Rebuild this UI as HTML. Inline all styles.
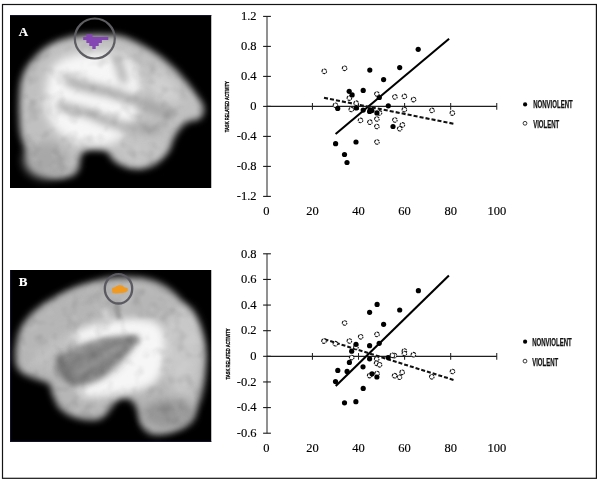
<!DOCTYPE html>
<html><head><meta charset="utf-8"><style>
html,body{margin:0;padding:0;background:#fff;}
svg{display:block;}
.tk{font-family:"Liberation Serif",serif;font-size:12.5px;fill:#000;stroke:#000;stroke-width:0.15px;}
.lg{font-family:"Liberation Sans",sans-serif;font-weight:bold;font-size:10.2px;fill:#111;stroke:#111;stroke-width:0.25px;}
.yl{font-family:"Liberation Sans",sans-serif;font-weight:bold;font-size:6.2px;fill:#000;stroke:#000;stroke-width:0.3px;}
.pl{font-family:"Liberation Serif",serif;font-weight:bold;font-size:13px;fill:#fff;stroke:#fff;stroke-width:0.15px;}
</style></head><body>
<svg width="600" height="481" viewBox="0 0 600 481">
<defs>
<mask id="maskA" maskUnits="userSpaceOnUse" x="0" y="0" width="600" height="481"><path d="M19.3,100 C19.5,94.8 19.6,89.0 20.5,84 C21.4,79.0 22.8,74.3 25,70 C27.2,65.7 30.5,61.8 34,58 C37.5,54.2 41.3,50.1 46,47 C50.7,43.9 56.0,41.5 62,39.5 C68.0,37.5 73.3,35.8 82,35 C90.7,34.2 105.7,34.2 114,35 C122.3,35.8 125.3,37.2 132,40 C138.7,42.8 146.8,47.2 154,52 C161.2,56.8 168.7,62.8 175,69 C181.3,75.2 187.2,82.7 192,89 C196.8,95.3 202.2,102.1 203.5,107 C204.8,111.9 202.9,115.9 200,118.5 C197.1,121.1 190.3,119.9 186.1,122.8 C181.9,125.7 178.0,131.1 175,136 C172.0,140.9 171.5,147.2 168,152 C164.5,156.8 159.3,162.2 154,165 C148.7,167.8 142.2,169.3 136,169 C129.8,168.7 121.5,165.5 117,163 C112.5,160.5 111.2,156.2 109,154 C106.8,151.8 106.7,150.8 103.5,150 C100.3,149.2 93.8,148.2 90,149 C86.2,149.8 82.9,151.7 81,155 C79.1,158.3 80.3,165.4 78.5,169 C76.7,172.6 74.8,175.2 70,176.5 C65.2,177.8 56.2,178.8 50,176.5 C43.8,174.2 37.8,169.6 33,163 C28.2,156.4 23.8,145.0 21.5,137 C19.2,129.0 19.7,121.2 19.3,115 C18.9,108.8 19.1,105.2 19.3,100 Z" fill="#fff" filter="url(#blur45)"/></mask>
<mask id="maskB" maskUnits="userSpaceOnUse" x="0" y="0" width="600" height="481"><path d="M15.5,352 C15.7,348.0 16.1,344.0 17,340 C17.9,336.0 18.8,332.2 21,328 C23.2,323.8 26.5,318.8 30,315 C33.5,311.2 37.7,308.1 42,305 C46.3,301.9 50.0,299.7 56,296.5 C62.0,293.3 69.6,289.0 78,286 C86.4,283.0 97.6,280.0 106.5,278.5 C115.4,277.0 123.8,276.9 131.6,277.2 C139.3,277.5 146.3,278.2 153,280.5 C159.7,282.8 165.4,285.4 172,291 C178.6,296.6 187.0,305.5 192.3,314 C197.6,322.5 201.8,332.7 204,342 C206.2,351.3 206.0,360.8 205.5,370 C205.0,379.2 203.6,388.5 201,397 C198.4,405.5 195.0,415.1 190,421 C185.0,426.9 177.3,430.3 171,432.5 C164.7,434.7 156.8,435.1 152,434 C147.2,432.9 144.3,429.7 142,426 C139.7,422.3 139.4,415.9 138,412 C136.6,408.1 135.8,404.8 133.5,402.5 C131.2,400.2 127.2,397.9 124,398 C120.8,398.1 117.4,400.3 114.5,403 C111.6,405.7 109.6,411.2 106.5,414 C103.4,416.8 101.2,419.4 96,420 C90.8,420.6 81.0,419.4 75,417.5 C69.0,415.6 63.7,412.2 60,408.5 C56.3,404.8 54.8,399.1 53,395 C51.2,390.9 51.8,386.7 49,384 C46.2,381.3 40.5,380.8 36,379 C31.5,377.2 25.3,375.5 22,373 C18.7,370.5 17.1,367.5 16,364 C14.9,360.5 15.3,356.0 15.5,352 Z" fill="#fff" filter="url(#blur45)"/></mask>
<clipPath id="clipA"><rect x="10" y="15" width="201.5" height="173"/></clipPath>
<clipPath id="clipB"><rect x="10" y="270" width="201.5" height="172"/></clipPath>
<filter id="blur4" filterUnits="userSpaceOnUse" x="0" y="0" width="600" height="481"><feGaussianBlur stdDeviation="4"/></filter>
<filter id="blur3" filterUnits="userSpaceOnUse" x="0" y="0" width="600" height="481"><feGaussianBlur stdDeviation="3"/></filter>
<filter id="blur45" filterUnits="userSpaceOnUse" x="0" y="0" width="600" height="481"><feGaussianBlur stdDeviation="3.6"/></filter>
<filter id="blur25" filterUnits="userSpaceOnUse" x="0" y="0" width="600" height="481"><feGaussianBlur stdDeviation="2.5"/></filter>
<filter id="blur2" filterUnits="userSpaceOnUse" x="0" y="0" width="600" height="481"><feGaussianBlur stdDeviation="2"/></filter>
<filter id="noise" filterUnits="userSpaceOnUse" x="0" y="0" width="600" height="481"><feTurbulence type="fractalNoise" baseFrequency="0.075" numOctaves="2" seed="7"/><feColorMatrix type="matrix" values="0 0 0 0 0  0 0 0 0 0  0 0 0 0 0  0 0 0 -2.2 1.1"/><feGaussianBlur stdDeviation="0.8"/></filter>
<filter id="noise2" filterUnits="userSpaceOnUse" x="0" y="0" width="600" height="481"><feTurbulence type="fractalNoise" baseFrequency="0.075" numOctaves="2" seed="21"/><feColorMatrix type="matrix" values="0 0 0 0 1  0 0 0 0 1  0 0 0 0 1  0 0 0 2.2 -1.1"/><feGaussianBlur stdDeviation="0.8"/></filter>
<filter id="nofx" filterUnits="userSpaceOnUse" x="0" y="0" width="600" height="481"><feOffset dx="0" dy="0"/></filter>
<filter id="blur5" filterUnits="userSpaceOnUse" x="0" y="0" width="600" height="481"><feGaussianBlur stdDeviation="5"/></filter>
</defs>
<g filter="url(#nofx)">
<rect width="600" height="481" fill="#fff"/>
<rect x="2.5" y="4.5" width="593.9" height="473.8" fill="none" stroke="#141414" stroke-width="1.2"/>

<g clip-path="url(#clipA)">
<rect x="10" y="15" width="201.5" height="173" fill="#000"/>
<rect x="10" y="15" width="201.5" height="1" fill="#14142e"/>
<g filter="url(#blur45)">
<path d="M19.3,100 C19.5,94.8 19.6,89.0 20.5,84 C21.4,79.0 22.8,74.3 25,70 C27.2,65.7 30.5,61.8 34,58 C37.5,54.2 41.3,50.1 46,47 C50.7,43.9 56.0,41.5 62,39.5 C68.0,37.5 73.3,35.8 82,35 C90.7,34.2 105.7,34.2 114,35 C122.3,35.8 125.3,37.2 132,40 C138.7,42.8 146.8,47.2 154,52 C161.2,56.8 168.7,62.8 175,69 C181.3,75.2 187.2,82.7 192,89 C196.8,95.3 202.2,102.1 203.5,107 C204.8,111.9 202.9,115.9 200,118.5 C197.1,121.1 190.3,119.9 186.1,122.8 C181.9,125.7 178.0,131.1 175,136 C172.0,140.9 171.5,147.2 168,152 C164.5,156.8 159.3,162.2 154,165 C148.7,167.8 142.2,169.3 136,169 C129.8,168.7 121.5,165.5 117,163 C112.5,160.5 111.2,156.2 109,154 C106.8,151.8 106.7,150.8 103.5,150 C100.3,149.2 93.8,148.2 90,149 C86.2,149.8 82.9,151.7 81,155 C79.1,158.3 80.3,165.4 78.5,169 C76.7,172.6 74.8,175.2 70,176.5 C65.2,177.8 56.2,178.8 50,176.5 C43.8,174.2 37.8,169.6 33,163 C28.2,156.4 23.8,145.0 21.5,137 C19.2,129.0 19.7,121.2 19.3,115 C18.9,108.8 19.1,105.2 19.3,100 Z" fill="#c0c0c0"/>
</g>
<g filter="url(#blur5)">
<path d="M52,68 C62,54 90,50 120,54 C135,58 142,78 140,98 C139,115 132,125 124,135 C114,146 95,150 78,144 C63,138 52,128 47,115 C43,102 46,80 52,68 Z" fill="#f6f6f6"/>
<ellipse cx="46" cy="160" rx="22" ry="18" fill="#a8a8a8"/>
<path d="M150,70 C165,72 180,86 180,100 C172,108 156,100 150,88 Z" fill="#d0d0d0"/>
<path d="M120,138 C135,136 155,138 165,144 C160,156 140,163 125,160 C118,155 116,144 120,138 Z" fill="#c4c4c4"/>
</g>
<g filter="url(#blur4)" fill="none" stroke="#a2a2a2" stroke-linecap="round">
<path d="M68,80 C75,83 80,86 87,87 C97,89 110,92 122,96 C132,99 140,102 147,105 C156,109 164,113 171,115" stroke-width="9"/>
<path d="M60,106 C70,109 80,111 88,113 C98,117 106,121 115,124 C125,127 133,128 140,129 C147,130 152,130 157,130" stroke-width="8"/>
<path d="M117,57 C119,65 121,72 124,80" stroke-width="7"/>
</g>
<g mask="url(#maskA)"><rect x="10" y="15" width="202" height="173" filter="url(#noise)" opacity="0.13"/><rect x="10" y="15" width="202" height="173" filter="url(#noise2)" opacity="0.13"/></g>
</g>


<path d="M86.4,34.3 L92.5,34.3 L92.5,36.9 L108.3,36.9 L108.3,39.9 L101.9,39.9 L101.9,43.1 L98.7,43.1 L98.7,46 L95.7,46 L95.7,48.9 L92.3,48.9 L92.3,46 L89.3,46 L89.3,43.1 L86.4,43.1 L86.4,39.9 L83.2,39.9 L83.2,36.9 L86.4,36.9 Z" fill="#8446b3"/>
<circle cx="94.8" cy="38.5" r="20" fill="none" stroke="#5e5e62" stroke-width="2.2"/>
<text x="18.8" y="35.5" class="pl">A</text>


<g clip-path="url(#clipB)">
<rect x="10" y="270" width="201.5" height="172" fill="#000"/>
<rect x="10" y="270" width="1" height="172" fill="#12122e"/>
<rect x="10" y="441" width="201.5" height="1" fill="#12122e"/>
<g filter="url(#blur45)">
<path d="M15.5,352 C15.7,348.0 16.1,344.0 17,340 C17.9,336.0 18.8,332.2 21,328 C23.2,323.8 26.5,318.8 30,315 C33.5,311.2 37.7,308.1 42,305 C46.3,301.9 50.0,299.7 56,296.5 C62.0,293.3 69.6,289.0 78,286 C86.4,283.0 97.6,280.0 106.5,278.5 C115.4,277.0 123.8,276.9 131.6,277.2 C139.3,277.5 146.3,278.2 153,280.5 C159.7,282.8 165.4,285.4 172,291 C178.6,296.6 187.0,305.5 192.3,314 C197.6,322.5 201.8,332.7 204,342 C206.2,351.3 206.0,360.8 205.5,370 C205.0,379.2 203.6,388.5 201,397 C198.4,405.5 195.0,415.1 190,421 C185.0,426.9 177.3,430.3 171,432.5 C164.7,434.7 156.8,435.1 152,434 C147.2,432.9 144.3,429.7 142,426 C139.7,422.3 139.4,415.9 138,412 C136.6,408.1 135.8,404.8 133.5,402.5 C131.2,400.2 127.2,397.9 124,398 C120.8,398.1 117.4,400.3 114.5,403 C111.6,405.7 109.6,411.2 106.5,414 C103.4,416.8 101.2,419.4 96,420 C90.8,420.6 81.0,419.4 75,417.5 C69.0,415.6 63.7,412.2 60,408.5 C56.3,404.8 54.8,399.1 53,395 C51.2,390.9 51.8,386.7 49,384 C46.2,381.3 40.5,380.8 36,379 C31.5,377.2 25.3,375.5 22,373 C18.7,370.5 17.1,367.5 16,364 C14.9,360.5 15.3,356.0 15.5,352 Z" fill="#b6b6b6"/>
</g>
<g filter="url(#blur5)">
<ellipse cx="182" cy="350" rx="20" ry="44" fill="#c8c8c8"/>
<ellipse cx="168" cy="414" rx="26" ry="14" fill="#969696"/>
<ellipse cx="85" cy="300" rx="30" ry="8" fill="#b4b4b4" transform="rotate(-15 85 300)"/>
</g>
<g filter="url(#blur4)">
<path d="M72,334 C88,324 108,320 128,319 C148,318 160,321 163,330 C167,345 165,362 161,374 C157,384 148,388 135,391 C118,395 100,398 86,397 C76,396 76,388 86,384 C100,380 110,376 120,366 C128,356 134,346 137,338 C120,337 100,338 85,343 C78,345 70,340 72,334 Z" fill="#f6f6f6"/>
<path d="M70,338 C60,345 48,352 38,362" stroke="#c4c4c4" stroke-width="9" fill="none" stroke-linecap="round"/>
</g>
<g filter="url(#blur3)">
<path d="M139,336 C122,336 105,338 90,344 C75,350 62,355 57,363 C53,372 60,380 72,383 C84,386 97,382 109,371 C121,360 131,348 139,340 Z" fill="#7e7e7e"/>
</g>
<g filter="url(#blur2)">
<path d="M117,303 C117,308 118,313 119,319" stroke="#808080" stroke-width="3" fill="none"/>
<path d="M104,310 C106,316 108,320 110,324" stroke="#d0d0d0" stroke-width="5" fill="none"/>
</g>
<g filter="url(#blur3)">
<path d="M74,375 C90,366 106,356 126,344" stroke="#9a9a9a" stroke-width="5" fill="none"/>
<path d="M64,360 C78,352 92,346 110,341" stroke="#949494" stroke-width="4" fill="none"/>
<path d="M60,358 C62,366 66,374 74,383" stroke="#707070" stroke-width="6" fill="none" stroke-linecap="round"/>
</g>
<g mask="url(#maskB)"><rect x="10" y="270" width="202" height="172" filter="url(#noise)" opacity="0.13"/><rect x="10" y="270" width="202" height="172" filter="url(#noise2)" opacity="0.13"/></g>
</g>


<path d="M112.1,288 L114.2,287.6 L116.7,285.9 L119.2,285.1 L122.5,285.5 L124.2,287.2 L127.5,288 L127.9,290.5 L125.8,292.2 L122.5,293 L115.8,293.4 L112.5,293 L112.1,290.5 Z" fill="#f09a22"/>
<ellipse cx="118.5" cy="288.8" rx="13.7" ry="14.7" fill="none" stroke="#5a5a60" stroke-width="2.3"/>
<text x="18.8" y="285.8" class="pl">B</text>

<line x1="267.0" y1="16.4" x2="267.0" y2="196.4" stroke="#858585" stroke-width="1.8"/>
<line x1="263.1" y1="16.4" x2="270.9" y2="16.4" stroke="#1a1a1a" stroke-width="1.1"/>
<text x="256.6" y="20.1" text-anchor="end" class="tk">1.2</text>
<line x1="263.1" y1="46.4" x2="270.9" y2="46.4" stroke="#1a1a1a" stroke-width="1.1"/>
<text x="256.6" y="50.1" text-anchor="end" class="tk">0.8</text>
<line x1="263.1" y1="76.4" x2="270.9" y2="76.4" stroke="#1a1a1a" stroke-width="1.1"/>
<text x="256.6" y="80.1" text-anchor="end" class="tk">0.4</text>
<line x1="263.1" y1="106.4" x2="270.9" y2="106.4" stroke="#1a1a1a" stroke-width="1.1"/>
<text x="256.6" y="110.1" text-anchor="end" class="tk">0</text>
<line x1="263.1" y1="136.4" x2="270.9" y2="136.4" stroke="#1a1a1a" stroke-width="1.1"/>
<text x="256.6" y="140.1" text-anchor="end" class="tk">-0.4</text>
<line x1="263.1" y1="166.4" x2="270.9" y2="166.4" stroke="#1a1a1a" stroke-width="1.1"/>
<text x="256.6" y="170.1" text-anchor="end" class="tk">-0.8</text>
<line x1="263.1" y1="196.4" x2="270.9" y2="196.4" stroke="#1a1a1a" stroke-width="1.1"/>
<text x="256.6" y="200.1" text-anchor="end" class="tk">-1.2</text>
<line x1="267.0" y1="106.4" x2="496.8" y2="106.4" stroke="#1e1e1e" stroke-width="1.1"/>
<line x1="312.43" y1="103.10000000000001" x2="312.43" y2="109.80000000000001" stroke="#222" stroke-width="1.05"/>
<line x1="358.51" y1="103.10000000000001" x2="358.51" y2="109.80000000000001" stroke="#222" stroke-width="1.05"/>
<line x1="404.59" y1="103.10000000000001" x2="404.59" y2="109.80000000000001" stroke="#222" stroke-width="1.05"/>
<line x1="450.67" y1="103.10000000000001" x2="450.67" y2="109.80000000000001" stroke="#222" stroke-width="1.05"/>
<line x1="496.75" y1="103.10000000000001" x2="496.75" y2="109.80000000000001" stroke="#222" stroke-width="1.05"/>
<text x="266.4" y="215.0" text-anchor="middle" class="tk">0</text>
<text x="312.4" y="215.0" text-anchor="middle" class="tk">20</text>
<text x="358.5" y="215.0" text-anchor="middle" class="tk">40</text>
<text x="404.6" y="215.0" text-anchor="middle" class="tk">60</text>
<text x="450.7" y="215.0" text-anchor="middle" class="tk">80</text>
<text x="496.8" y="215.0" text-anchor="middle" class="tk">100</text>
<line x1="335.6" y1="134.0" x2="449.1" y2="38.7" stroke="#000" stroke-width="2.1"/>
<line x1="324.0" y1="97.8" x2="453.4" y2="123.7" stroke="#111" stroke-width="2.1" stroke-dasharray="4.062 2.028"/>
<circle cx="324.3" cy="71.3" r="2.3" fill="#fff" stroke="#151515" stroke-width="1.1" stroke-dasharray="2.95 0.66" stroke-dashoffset="1.47"/>
<circle cx="344.6" cy="68.3" r="2.3" fill="#fff" stroke="#151515" stroke-width="1.1" stroke-dasharray="2.95 0.66" stroke-dashoffset="1.47"/>
<circle cx="376.9" cy="94" r="2.3" fill="#fff" stroke="#151515" stroke-width="1.1" stroke-dasharray="2.95 0.66" stroke-dashoffset="1.47"/>
<circle cx="349.4" cy="98.1" r="2.3" fill="#fff" stroke="#151515" stroke-width="1.1" stroke-dasharray="2.95 0.66" stroke-dashoffset="1.47"/>
<circle cx="394.9" cy="96.9" r="2.3" fill="#fff" stroke="#151515" stroke-width="1.1" stroke-dasharray="2.95 0.66" stroke-dashoffset="1.47"/>
<circle cx="404.4" cy="96.4" r="2.3" fill="#fff" stroke="#151515" stroke-width="1.1" stroke-dasharray="2.95 0.66" stroke-dashoffset="1.47"/>
<circle cx="413.6" cy="99.6" r="2.3" fill="#fff" stroke="#151515" stroke-width="1.1" stroke-dasharray="2.95 0.66" stroke-dashoffset="1.47"/>
<circle cx="335.5" cy="105.3" r="2.3" fill="#fff" stroke="#151515" stroke-width="1.1" stroke-dasharray="2.95 0.66" stroke-dashoffset="1.47"/>
<circle cx="356.2" cy="103.2" r="2.3" fill="#fff" stroke="#151515" stroke-width="1.1" stroke-dasharray="2.95 0.66" stroke-dashoffset="1.47"/>
<circle cx="351.3" cy="109.5" r="2.3" fill="#fff" stroke="#151515" stroke-width="1.1" stroke-dasharray="2.95 0.66" stroke-dashoffset="1.47"/>
<circle cx="379.5" cy="112.9" r="2.3" fill="#fff" stroke="#151515" stroke-width="1.1" stroke-dasharray="2.95 0.66" stroke-dashoffset="1.47"/>
<circle cx="404.4" cy="109.6" r="2.3" fill="#fff" stroke="#151515" stroke-width="1.1" stroke-dasharray="2.95 0.66" stroke-dashoffset="1.47"/>
<circle cx="432.0" cy="110.4" r="2.3" fill="#fff" stroke="#151515" stroke-width="1.1" stroke-dasharray="2.95 0.66" stroke-dashoffset="1.47"/>
<circle cx="452.4" cy="113.1" r="2.3" fill="#fff" stroke="#151515" stroke-width="1.1" stroke-dasharray="2.95 0.66" stroke-dashoffset="1.47"/>
<circle cx="360.5" cy="120.4" r="2.3" fill="#fff" stroke="#151515" stroke-width="1.1" stroke-dasharray="2.95 0.66" stroke-dashoffset="1.47"/>
<circle cx="369.9" cy="122.2" r="2.3" fill="#fff" stroke="#151515" stroke-width="1.1" stroke-dasharray="2.95 0.66" stroke-dashoffset="1.47"/>
<circle cx="376.9" cy="119" r="2.3" fill="#fff" stroke="#151515" stroke-width="1.1" stroke-dasharray="2.95 0.66" stroke-dashoffset="1.47"/>
<circle cx="376.9" cy="126.5" r="2.3" fill="#fff" stroke="#151515" stroke-width="1.1" stroke-dasharray="2.95 0.66" stroke-dashoffset="1.47"/>
<circle cx="394.9" cy="120" r="2.3" fill="#fff" stroke="#151515" stroke-width="1.1" stroke-dasharray="2.95 0.66" stroke-dashoffset="1.47"/>
<circle cx="402.4" cy="124.9" r="2.3" fill="#fff" stroke="#151515" stroke-width="1.1" stroke-dasharray="2.95 0.66" stroke-dashoffset="1.47"/>
<circle cx="399.7" cy="128.7" r="2.3" fill="#fff" stroke="#151515" stroke-width="1.1" stroke-dasharray="2.95 0.66" stroke-dashoffset="1.47"/>
<circle cx="377.0" cy="142" r="2.3" fill="#fff" stroke="#151515" stroke-width="1.1" stroke-dasharray="2.95 0.66" stroke-dashoffset="1.47"/>
<circle cx="418.2" cy="49.3" r="2.6" fill="#000"/>
<circle cx="399.7" cy="67.6" r="2.6" fill="#000"/>
<circle cx="369.8" cy="70.1" r="2.6" fill="#000"/>
<circle cx="383.6" cy="79.6" r="2.6" fill="#000"/>
<circle cx="363.2" cy="90.4" r="2.6" fill="#000"/>
<circle cx="349.2" cy="91.3" r="2.6" fill="#000"/>
<circle cx="352.1" cy="94.9" r="2.6" fill="#000"/>
<circle cx="379.3" cy="97.5" r="2.6" fill="#000"/>
<circle cx="388.3" cy="105.8" r="2.6" fill="#000"/>
<circle cx="337.7" cy="108.4" r="2.6" fill="#000"/>
<circle cx="356.2" cy="108" r="2.6" fill="#000"/>
<circle cx="363.2" cy="110.1" r="2.6" fill="#000"/>
<circle cx="370.2" cy="109.8" r="2.6" fill="#000"/>
<circle cx="371.9" cy="110.6" r="2.6" fill="#000"/>
<circle cx="369.6" cy="111.5" r="2.6" fill="#000"/>
<circle cx="376.9" cy="112.9" r="2.6" fill="#000"/>
<circle cx="393.0" cy="126.5" r="2.6" fill="#000"/>
<circle cx="335.6" cy="143.7" r="2.6" fill="#000"/>
<circle cx="356.0" cy="142" r="2.6" fill="#000"/>
<circle cx="344.5" cy="154.5" r="2.6" fill="#000"/>
<circle cx="347.0" cy="162.5" r="2.6" fill="#000"/>
<circle cx="525.1" cy="104.4" r="2.1" fill="#000"/>
<circle cx="525.0" cy="123.3" r="1.9" fill="#fff" stroke="#222" stroke-width="0.9"/>
<text x="533.2" y="107.9" class="lg" textLength="39.5" lengthAdjust="spacingAndGlyphs">NONVIOLENT</text>
<text x="533.2" y="127.6" class="lg" textLength="26" lengthAdjust="spacingAndGlyphs">VIOLENT</text>
<text transform="translate(229.2 106.8) rotate(-90)" text-anchor="middle" class="yl" textLength="51" lengthAdjust="spacingAndGlyphs">TASK RELATED ACTIVITY</text>
<line x1="267.0" y1="253.8" x2="267.0" y2="433.2" stroke="#858585" stroke-width="1.8"/>
<line x1="263.1" y1="253.8" x2="270.9" y2="253.8" stroke="#1a1a1a" stroke-width="1.1"/>
<text x="256.6" y="257.5" text-anchor="end" class="tk">0.8</text>
<line x1="263.1" y1="279.43" x2="270.9" y2="279.43" stroke="#1a1a1a" stroke-width="1.1"/>
<text x="256.6" y="283.1" text-anchor="end" class="tk">0.6</text>
<line x1="263.1" y1="305.06" x2="270.9" y2="305.06" stroke="#1a1a1a" stroke-width="1.1"/>
<text x="256.6" y="308.8" text-anchor="end" class="tk">0.4</text>
<line x1="263.1" y1="330.69" x2="270.9" y2="330.69" stroke="#1a1a1a" stroke-width="1.1"/>
<text x="256.6" y="334.4" text-anchor="end" class="tk">0.2</text>
<line x1="263.1" y1="356.32" x2="270.9" y2="356.32" stroke="#1a1a1a" stroke-width="1.1"/>
<text x="256.6" y="360.0" text-anchor="end" class="tk">0</text>
<line x1="263.1" y1="381.95000000000005" x2="270.9" y2="381.95000000000005" stroke="#1a1a1a" stroke-width="1.1"/>
<text x="256.6" y="385.7" text-anchor="end" class="tk">-0.2</text>
<line x1="263.1" y1="407.58000000000004" x2="270.9" y2="407.58000000000004" stroke="#1a1a1a" stroke-width="1.1"/>
<text x="256.6" y="411.3" text-anchor="end" class="tk">-0.4</text>
<line x1="263.1" y1="433.21000000000004" x2="270.9" y2="433.21000000000004" stroke="#1a1a1a" stroke-width="1.1"/>
<text x="256.6" y="436.9" text-anchor="end" class="tk">-0.6</text>
<line x1="267.0" y1="356.35" x2="496.8" y2="356.35" stroke="#1e1e1e" stroke-width="1.1"/>
<line x1="312.43" y1="353.05" x2="312.43" y2="359.75" stroke="#222" stroke-width="1.05"/>
<line x1="358.51" y1="353.05" x2="358.51" y2="359.75" stroke="#222" stroke-width="1.05"/>
<line x1="404.59" y1="353.05" x2="404.59" y2="359.75" stroke="#222" stroke-width="1.05"/>
<line x1="450.67" y1="353.05" x2="450.67" y2="359.75" stroke="#222" stroke-width="1.05"/>
<line x1="496.75" y1="353.05" x2="496.75" y2="359.75" stroke="#222" stroke-width="1.05"/>
<text x="266.4" y="452.2" text-anchor="middle" class="tk">0</text>
<text x="312.4" y="452.2" text-anchor="middle" class="tk">20</text>
<text x="358.5" y="452.2" text-anchor="middle" class="tk">40</text>
<text x="404.6" y="452.2" text-anchor="middle" class="tk">60</text>
<text x="450.7" y="452.2" text-anchor="middle" class="tk">80</text>
<text x="496.8" y="452.2" text-anchor="middle" class="tk">100</text>
<line x1="335.75" y1="385.9" x2="448.9" y2="275.6" stroke="#000" stroke-width="2.1"/>
<line x1="324.5" y1="339.3" x2="453.5" y2="379.9" stroke="#111" stroke-width="2.1" stroke-dasharray="3.980 1.987"/>
<circle cx="344.6" cy="323" r="2.3" fill="#fff" stroke="#151515" stroke-width="1.1" stroke-dasharray="2.95 0.66" stroke-dashoffset="1.47"/>
<circle cx="360.7" cy="336.8" r="2.3" fill="#fff" stroke="#151515" stroke-width="1.1" stroke-dasharray="2.95 0.66" stroke-dashoffset="1.47"/>
<circle cx="377.0" cy="334.4" r="2.3" fill="#fff" stroke="#151515" stroke-width="1.1" stroke-dasharray="2.95 0.66" stroke-dashoffset="1.47"/>
<circle cx="324.0" cy="341.1" r="2.3" fill="#fff" stroke="#151515" stroke-width="1.1" stroke-dasharray="2.95 0.66" stroke-dashoffset="1.47"/>
<circle cx="335.4" cy="343.7" r="2.3" fill="#fff" stroke="#151515" stroke-width="1.1" stroke-dasharray="2.95 0.66" stroke-dashoffset="1.47"/>
<circle cx="349.4" cy="341" r="2.3" fill="#fff" stroke="#151515" stroke-width="1.1" stroke-dasharray="2.95 0.66" stroke-dashoffset="1.47"/>
<circle cx="356.0" cy="347" r="2.3" fill="#fff" stroke="#151515" stroke-width="1.1" stroke-dasharray="2.95 0.66" stroke-dashoffset="1.47"/>
<circle cx="351.7" cy="357.6" r="2.3" fill="#fff" stroke="#151515" stroke-width="1.1" stroke-dasharray="2.95 0.66" stroke-dashoffset="1.47"/>
<circle cx="376.7" cy="359" r="2.3" fill="#fff" stroke="#151515" stroke-width="1.1" stroke-dasharray="2.95 0.66" stroke-dashoffset="1.47"/>
<circle cx="376.6" cy="363.3" r="2.3" fill="#fff" stroke="#151515" stroke-width="1.1" stroke-dasharray="2.95 0.66" stroke-dashoffset="1.47"/>
<circle cx="379.6" cy="364.8" r="2.3" fill="#fff" stroke="#151515" stroke-width="1.1" stroke-dasharray="2.95 0.66" stroke-dashoffset="1.47"/>
<circle cx="369.7" cy="375.6" r="2.3" fill="#fff" stroke="#151515" stroke-width="1.1" stroke-dasharray="2.95 0.66" stroke-dashoffset="1.47"/>
<circle cx="377.1" cy="373.5" r="2.3" fill="#fff" stroke="#151515" stroke-width="1.1" stroke-dasharray="2.95 0.66" stroke-dashoffset="1.47"/>
<circle cx="394.5" cy="355.6" r="2.3" fill="#fff" stroke="#151515" stroke-width="1.1" stroke-dasharray="2.95 0.66" stroke-dashoffset="1.47"/>
<circle cx="404.4" cy="351" r="2.3" fill="#fff" stroke="#151515" stroke-width="1.1" stroke-dasharray="2.95 0.66" stroke-dashoffset="1.47"/>
<circle cx="404.4" cy="353.5" r="2.3" fill="#fff" stroke="#151515" stroke-width="1.1" stroke-dasharray="2.95 0.66" stroke-dashoffset="1.47"/>
<circle cx="413.4" cy="354.7" r="2.3" fill="#fff" stroke="#151515" stroke-width="1.1" stroke-dasharray="2.95 0.66" stroke-dashoffset="1.47"/>
<circle cx="392.4" cy="355.3" r="2.3" fill="#fff" stroke="#151515" stroke-width="1.1" stroke-dasharray="2.95 0.66" stroke-dashoffset="1.47"/>
<circle cx="394.6" cy="375.7" r="2.3" fill="#fff" stroke="#151515" stroke-width="1.1" stroke-dasharray="2.95 0.66" stroke-dashoffset="1.47"/>
<circle cx="399.5" cy="377.2" r="2.3" fill="#fff" stroke="#151515" stroke-width="1.1" stroke-dasharray="2.95 0.66" stroke-dashoffset="1.47"/>
<circle cx="402.2" cy="372.3" r="2.3" fill="#fff" stroke="#151515" stroke-width="1.1" stroke-dasharray="2.95 0.66" stroke-dashoffset="1.47"/>
<circle cx="431.8" cy="376.8" r="2.3" fill="#fff" stroke="#151515" stroke-width="1.1" stroke-dasharray="2.95 0.66" stroke-dashoffset="1.47"/>
<circle cx="452.5" cy="371.5" r="2.3" fill="#fff" stroke="#151515" stroke-width="1.1" stroke-dasharray="2.95 0.66" stroke-dashoffset="1.47"/>
<circle cx="418.4" cy="290.7" r="2.6" fill="#000"/>
<circle cx="399.7" cy="310" r="2.6" fill="#000"/>
<circle cx="377.1" cy="304.4" r="2.6" fill="#000"/>
<circle cx="369.6" cy="312.3" r="2.6" fill="#000"/>
<circle cx="383.6" cy="324.3" r="2.6" fill="#000"/>
<circle cx="356.0" cy="344.3" r="2.6" fill="#000"/>
<circle cx="369.6" cy="345.7" r="2.6" fill="#000"/>
<circle cx="379.2" cy="343.3" r="2.6" fill="#000"/>
<circle cx="351.7" cy="351.2" r="2.6" fill="#000"/>
<circle cx="369.6" cy="358.8" r="2.6" fill="#000"/>
<circle cx="388.2" cy="357.6" r="2.6" fill="#000"/>
<circle cx="349.4" cy="362.4" r="2.6" fill="#000"/>
<circle cx="363.0" cy="366.8" r="2.6" fill="#000"/>
<circle cx="337.8" cy="370.4" r="2.6" fill="#000"/>
<circle cx="347.1" cy="371.4" r="2.6" fill="#000"/>
<circle cx="372.0" cy="373.8" r="2.6" fill="#000"/>
<circle cx="376.9" cy="377" r="2.6" fill="#000"/>
<circle cx="335.5" cy="381.6" r="2.6" fill="#000"/>
<circle cx="363.2" cy="388.4" r="2.6" fill="#000"/>
<circle cx="344.5" cy="402.8" r="2.6" fill="#000"/>
<circle cx="355.9" cy="401.7" r="2.6" fill="#000"/>
<circle cx="525.1" cy="341.7" r="2.1" fill="#000"/>
<circle cx="525.0" cy="361.1" r="1.9" fill="#fff" stroke="#222" stroke-width="0.9"/>
<text x="532.2" y="345.5" class="lg" textLength="39.5" lengthAdjust="spacingAndGlyphs">NONVIOLENT</text>
<text x="532.2" y="365.5" class="lg" textLength="26" lengthAdjust="spacingAndGlyphs">VIOLENT</text>
<text transform="translate(229.6 354.0) rotate(-90)" text-anchor="middle" class="yl" textLength="51" lengthAdjust="spacingAndGlyphs">TASK RELATED ACTIVITY</text>
</g>
</svg>
</body></html>
